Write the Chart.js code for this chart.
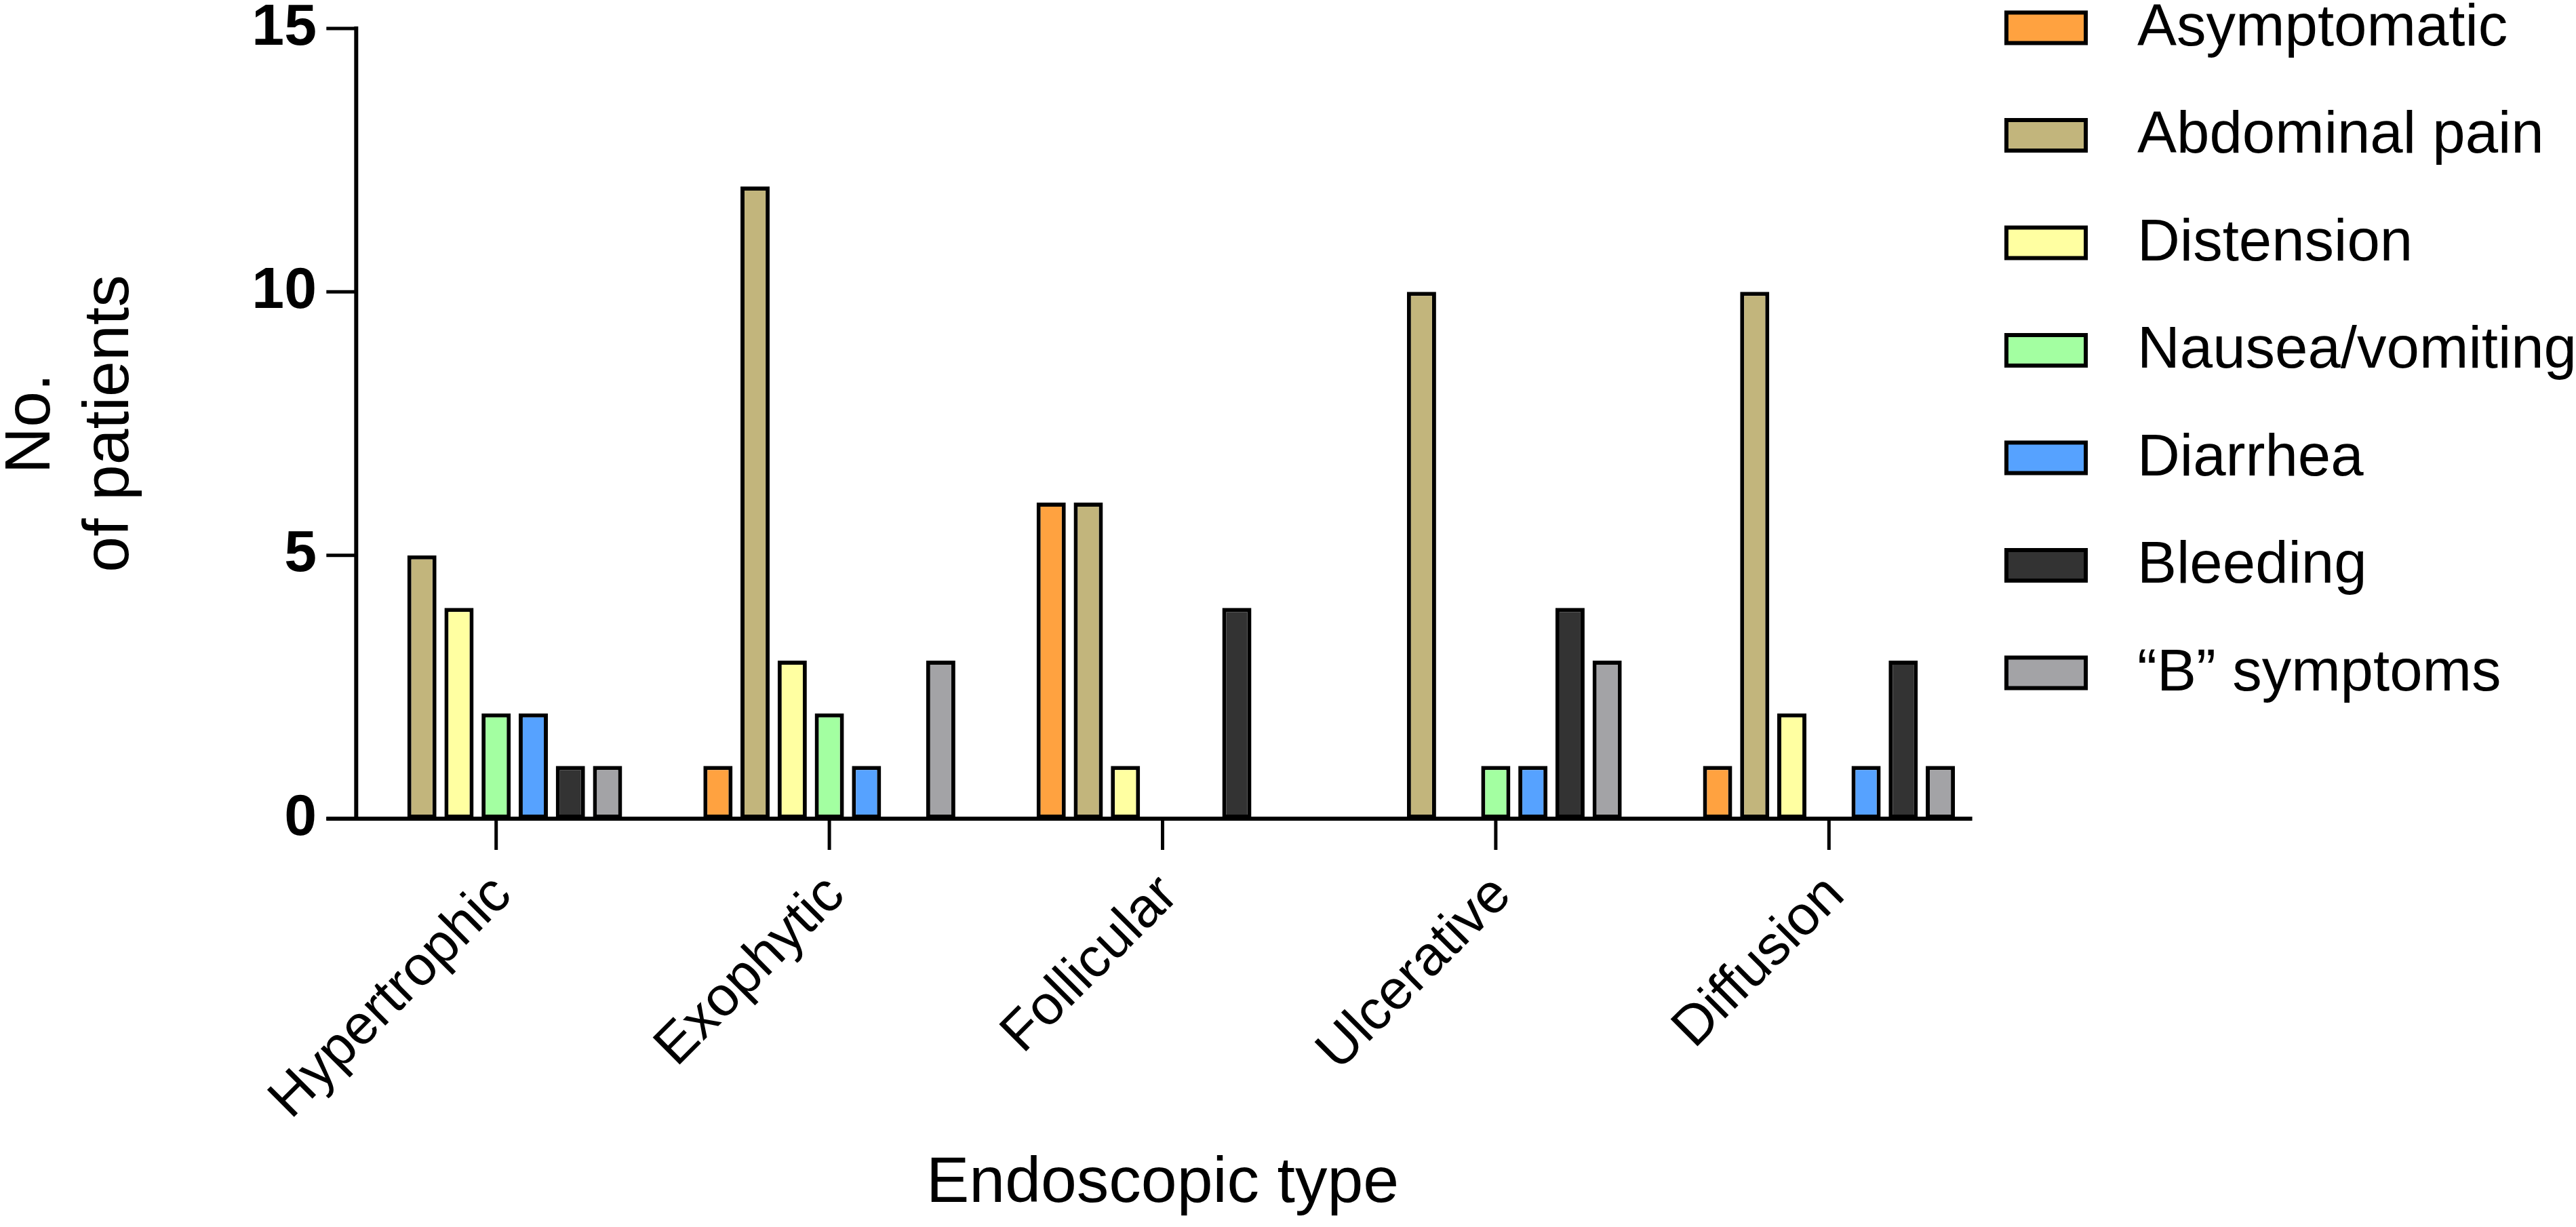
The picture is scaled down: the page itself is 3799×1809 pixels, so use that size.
<!DOCTYPE html>
<html>
<head>
<meta charset="utf-8">
<script src="https://cdn.jsdelivr.net/npm/chart.js@4.4.1/dist/chart.umd.min.js"></script>
<style>
html,body{margin:0;padding:0;background:#fff;}
#wrap{width:3799px;height:1809px;position:relative;}
</style>
</head>
<body>
<div id="wrap"><canvas id="c"></canvas></div>
<script>
const categories = ['Hypertrophic', 'Exophytic', 'Follicular', 'Ulcerative', 'Diffusion'];
const seriesNames = ['Asymptomatic', 'Abdominal pain', 'Distension', 'Nausea/vomiting', 'Diarrhea', 'Bleeding', '\u201CB\u201D symptoms'];
const asymptomatic   = [0, 1, 6, 0, 1];
const abdominalPain  = [5, 12, 6, 10, 10];
const distension     = [4, 3, 1, 0, 2];
const nauseaVomiting = [2, 2, 0, 1, 0];
const diarrhea       = [2, 1, 0, 1, 1];
const bleeding       = [1, 0, 4, 4, 3];
const bSymptoms      = [1, 3, 0, 3, 1];
const yTicks = [0, 5, 10, 15];
const seriesColors = ['#FFA240', '#C2B57C', '#FFFFA1', '#A3FFA1', '#56A2FF', '#333333', '#A3A3A6'];

const seriesValues = [asymptomatic, abdominalPain, distension, nauseaVomiting, diarrhea, bleeding, bSymptoms];
const FONT = '"Liberation Sans", Arial, Helvetica, sans-serif';
Chart.defaults.font.family = FONT;
Chart.defaults.color = '#000';

const datasets = seriesNames.map((name, i) => ({
  label: name,
  data: seriesValues[i],
  backgroundColor: seriesColors[i],
  borderColor: '#000',
  borderWidth: 6,
  borderSkipped: false,
  categoryPercentage: 0.78,
  barPercentage: 0.786
}));

const axesPlugin = {
  id: 'prismAxes',
  afterDatasetsDraw(chart) {
    const {ctx, chartArea, scales} = chart;
    const x = scales.x, y = scales.y;
    const cw = (chartArea.right - chartArea.left) / categories.length;
    const ax = chartArea.left + cw * 0.08;
    const axEnd = chartArea.right - cw * 0.07;
    const y0 = y.getPixelForValue(0);
    const yTop = y.getPixelForValue(yTicks[yTicks.length - 1]);
    ctx.save();
    ctx.strokeStyle = '#000';
    ctx.lineCap = 'butt';
    ctx.lineWidth = 6;
    ctx.beginPath(); ctx.moveTo(ax, yTop - 3); ctx.lineTo(ax, y0); ctx.stroke();
    ctx.lineWidth = 5;
    yTicks.forEach(v => {
      const py = y.getPixelForValue(v);
      ctx.beginPath(); ctx.moveTo(ax - 44, py); ctx.lineTo(ax, py); ctx.stroke();
    });
    ctx.lineWidth = 6;
    ctx.beginPath(); ctx.moveTo(ax - 44, y0); ctx.lineTo(axEnd, y0); ctx.stroke();
    ctx.lineWidth = 5;
    categories.forEach((c, i) => {
      const px = x.getPixelForTick(i);
      ctx.beginPath(); ctx.moveTo(px, y0); ctx.lineTo(px, y0 + 46); ctx.stroke();
    });
    ctx.restore();
  }
};

const legendPlugin = {
  id: 'prismLegend',
  afterDraw(chart) {
    const {ctx} = chart;
    const bx = 2956, bw = 123, bh = 51, tx = 3152, y0 = 41, step = 158.5;
    ctx.save();
    chart.data.datasets.forEach((ds, i) => {
      const cy = y0 + i * step;
      ctx.fillStyle = '#000';
      ctx.fillRect(bx, cy - bh / 2, bw, bh);
      ctx.fillStyle = ds.backgroundColor;
      ctx.fillRect(bx + 6, cy - bh / 2 + 6, bw - 12, bh - 12);
      ctx.fillStyle = '#000';
      ctx.font = '87px ' + FONT;
      ctx.textAlign = 'left';
      ctx.textBaseline = 'middle';
      ctx.fillText(ds.label, tx, cy + 2);
    });
    ctx.restore();
  }
};

new Chart(document.getElementById('c'), {
  type: 'bar',
  data: { labels: categories, datasets },
  plugins: [axesPlugin, legendPlugin],
  options: {
    responsive: true,
    maintainAspectRatio: false,
    devicePixelRatio: 1,
    animation: false,
    events: [],
    layout: { autoPadding: false, padding: { left: 0, top: 42, right: 856, bottom: 0 } },
    plugins: { legend: { display: false }, tooltip: { enabled: false } },
    scales: {
      x: {
        type: 'category',
        offset: true,
        grid: { display: false, drawTicks: false },
        border: { display: false },
        ticks: {
          autoSkip: false,
          minRotation: 45,
          maxRotation: 45,
          padding: 65,
          labelOffset: 10,
          font: { size: 82 },
          color: '#000'
        },
        title: {
          display: true,
          text: 'Endoscopic type',
          font: { size: 95 },
          color: '#000',
          padding: { top: 0, bottom: 6 }
        },
        afterFit(s) { s.height = 602; s.paddingLeft = 0; s.paddingRight = 0; }
      },
      y: {
        min: 0,
        max: 15,
        grid: { display: false, drawTicks: false },
        border: { display: false },
        ticks: {
          stepSize: 5,
          padding: 19,
          font: { size: 86, weight: 'bold' },
          color: '#000'
        },
        afterBuildTicks(s) { s.ticks = yTicks.map(v => ({ value: v })); },
        title: {
          display: true,
          text: ['No.', 'of patients'],
          font: { size: 95, lineHeight: 1.22 },
          color: '#000',
          padding: { top: -11, bottom: 0 }
        },
        afterFit(s) { s.width = 486; s.paddingTop = 0; s.paddingBottom = 0; }
      }
    }
  }
});
</script>
</body>
</html>
